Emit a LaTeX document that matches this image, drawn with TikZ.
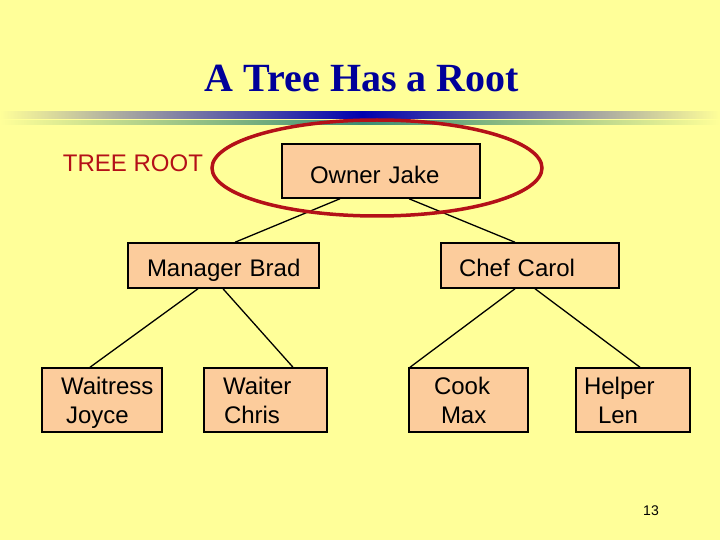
\documentclass[tikz,border=0pt]{standalone}
\usepackage{fontspec}
\setmainfont{Liberation Serif}
\setsansfont{Liberation Sans}
\usepackage{tikz}
\usetikzlibrary{arrows.meta, positioning, calc}
\definecolor{SlideYellow}{RGB}{255,255,153}
\definecolor{BoxPeach}{RGB}{252,204,156}
\definecolor{TitleBlue}{RGB}{0,0,153}
\definecolor{RingRed}{RGB}{180,16,24}
\definecolor{BandBlue}{RGB}{0,0,175}
\definecolor{BandTeal}{RGB}{60,140,115}

\tikzset{
  staffbox/.style={draw=black, line width=1.5pt, fill=BoxPeach, inner xsep=0pt,
                   inner ysep=0pt, align=left,
                   font=\sffamily\fontsize{24}{29}\selectfont},
  oneline/.style={text depth=0pt, text height=#1},
  link/.style={draw=black, line width=1.3pt},
  ring/.style={draw=RingRed, line width=3.5pt}
}

\begin{document}
\begin{tikzpicture}[x=1pt, y=-1pt]
  % slide background
  \fill[SlideYellow] (0,0) rectangle (720,540);
  \useasboundingbox (0,0) rectangle (720,540);

  % title and rule under it
  \node[font=\rmfamily\bfseries\fontsize{40}{42}\selectfont, text=TitleBlue] (title) at (362,78) {A Tree Has a Root};
  \shade[left color=SlideYellow, right color=BandBlue] (0,112) rectangle (362,118.5);
  \shade[left color=BandBlue, right color=SlideYellow] (362,112) rectangle (720,118.5);
  \shade[left color=SlideYellow, right color=BandTeal] (0,121) rectangle (362,124.5);
  \shade[left color=BandTeal, right color=SlideYellow] (362,121) rectangle (720,124.5);

  % tree
  \node[staffbox, oneline=25.5pt, text width=198pt, minimum height=54pt] (owner) at (381,171) {\hspace*{28pt}Owner Jake};
  \node[staffbox, oneline=22pt, text width=191pt, minimum height=45pt] (manager) at (223.5,265.5) {\hspace*{19pt}Manager Brad};
  \node[staffbox, oneline=22pt, text width=178pt, minimum height=45pt] (chef) at (530,265.5) {\hspace*{18pt}Chef Carol};
  \node[staffbox, text width=120pt, minimum height=64pt, text height=22.5pt] (waitress) at (102,400) {\hspace*{19pt}Waitress\\\hspace*{24pt}Joyce};
  \node[staffbox, text width=123pt, minimum height=64pt] (waiter) at (265.5,400) {\hspace*{19pt}Waiter\\\hspace*{20pt}Chris};
  \node[staffbox, text width=119pt, minimum height=64pt] (cook) at (468.5,400) {\hspace*{25pt}Cook\\\hspace*{32pt}Max};
  \node[staffbox, text width=114pt, minimum height=64pt] (helper) at (633,400) {\hspace*{8pt}Helper\\\hspace*{22pt}Len};

  \draw[link] ([xshift=-41pt]owner.south) -- ([xshift=11.5pt]manager.north);
  \draw[link] ([xshift=28pt]owner.south) -- ([xshift=-15pt]chef.north);
  \draw[link] ([xshift=-25.5pt]manager.south) -- ([xshift=-12pt]waitress.north);
  \draw[link] ([xshift=-0.5pt]manager.south) -- ([xshift=27.5pt]waiter.north);
  \draw[link] ([xshift=-15pt]chef.south) -- ([xshift=-58.5pt]cook.north);
  \draw[link] ([xshift=5pt]chef.south) -- ([xshift=7pt]helper.north);

  % root marker
  \node[font=\sffamily\fontsize{24}{28}\selectfont, text=RingRed] (rootlabel) at (133,163) {TREE ROOT};
  \draw[ring] (377,168) ellipse [x radius=165pt, y radius=48pt];

  % page number
  \node[font=\sffamily\fontsize{14}{16}\selectfont] (pagenum) at (651,511) {13};
\end{tikzpicture}
\end{document}
